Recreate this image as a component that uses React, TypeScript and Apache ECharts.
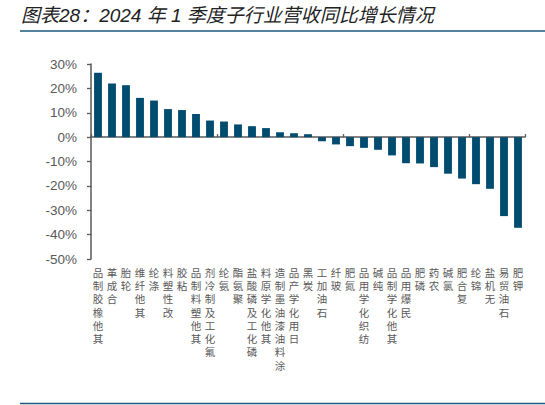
import React, { useEffect, useRef } from "react";
import * as echarts from "echarts";

const TITLE = "图表28：2024 年 1 季度子行业营收同比增长情况";

const categories = [
  "其他橡胶制品", "合成革", "轮胎", "其他纤维", "涤纶", "改性塑料", "粘胶", "其他塑料制品",
  "氟化工及制冷剂", "氨纶", "聚氨酯", "磷化工及磷酸盐", "其他化学原料", "涂料油漆油墨制造",
  "日用化学产品", "炭黑", "石油加工", "玻纤", "氮肥", "纺织化学用品", "纯碱", "其他化学制品",
  "民爆用品", "磷肥", "农药", "氯碱", "复合肥", "锦纶", "无机盐", "石油贸易", "钾肥",
];

const growth = [
  26.4, 22.0, 21.3, 16.1, 15.0, 11.5, 11.1, 9.5, 6.8, 6.4, 5.2, 4.5, 3.7, 2.0, 1.6, 1.2,
  -1.7, -3.0, -3.7, -4.4, -5.2, -7.5, -10.7, -10.8, -12.3, -15.0, -17.0, -19.3, -21.2, -32.4, -37.2,
];

const yMin = -50;
const yMax = 30;
const yStep = 10;

export default function App() {
  const ref = useRef<HTMLDivElement>(null);
  useEffect(() => {
    if (!ref.current) return;
    const chart = echarts.init(ref.current, undefined, { renderer: "svg" });
    chart.setOption({
      animation: false,
      backgroundColor: "#ffffff",
      grid: { left: 91, right: 20, top: 64, bottom: 146, containLabel: false },
      xAxis: [
        {
          type: "category",
          data: categories,
          position: "bottom",
          axisLine: { show: false, onZero: false },
          axisTick: { show: false },
          axisLabel: {
            interval: 0,
            margin: 7,
            color: "#595959",
            fontSize: 10.5,
            lineHeight: 13.3,
            fontFamily: "Liberation Sans, Noto Sans CJK SC",
            verticalAlign: "top",
            formatter: (v: string) => v.split("").reverse().join("\n"),
          },
        },
        {
          type: "category",
          data: categories,
          position: "top",
          axisLine: { show: true, onZero: true, lineStyle: { color: "#595959", width: 1.5 } },
          axisTick: { show: true, length: 3, inside: false, lineStyle: { color: "#595959", width: 1.3 } },
          axisLabel: { show: false },
        },
      ],
      yAxis: {
        type: "value",
        min: yMin,
        max: yMax,
        interval: yStep,
        axisLine: { show: true, lineStyle: { color: "#595959", width: 1.5 } },
        axisTick: { show: true, length: 4, lineStyle: { color: "#595959", width: 1.3 } },
        splitLine: { show: false },
        axisLabel: {
          color: "#595959",
          fontSize: 13.5,
          fontFamily: "Liberation Sans, Arial",
          margin: 14,
          formatter: "{value}%",
        },
      },
      series: [
        {
          type: "bar",
          xAxisIndex: 1,
          data: growth,
          barWidth: "56%",
          itemStyle: { color: "#004b70" },
        },
      ],
      graphic: [
        {
          type: "text",
          x: 21,
          y: 15,
          style: {
            text: TITLE,
            fontSize: 19,
            fontStyle: "italic",
            fontFamily: "Liberation Sans, Noto Sans CJK SC",
            fill: "#222222",
            verticalAlign: "middle",
            align: "left",
          },
        },
        {
          type: "line",
          shape: { x1: 20, y1: 31, x2: 545, y2: 31 },
          style: { stroke: "#1b5a7e", lineWidth: 1.5 },
        },
        {
          type: "line",
          shape: { x1: 20, y1: 403.5, x2: 545, y2: 403.5 },
          style: { stroke: "#1b5a7e", lineWidth: 1.5 },
        },
      ],
    });
    return () => chart.dispose();
  }, []);
  return (
    <div
      ref={ref}
      style={{ position: "fixed", left: 0, top: 0, width: 545, height: 405 }}
    />
  );
}
